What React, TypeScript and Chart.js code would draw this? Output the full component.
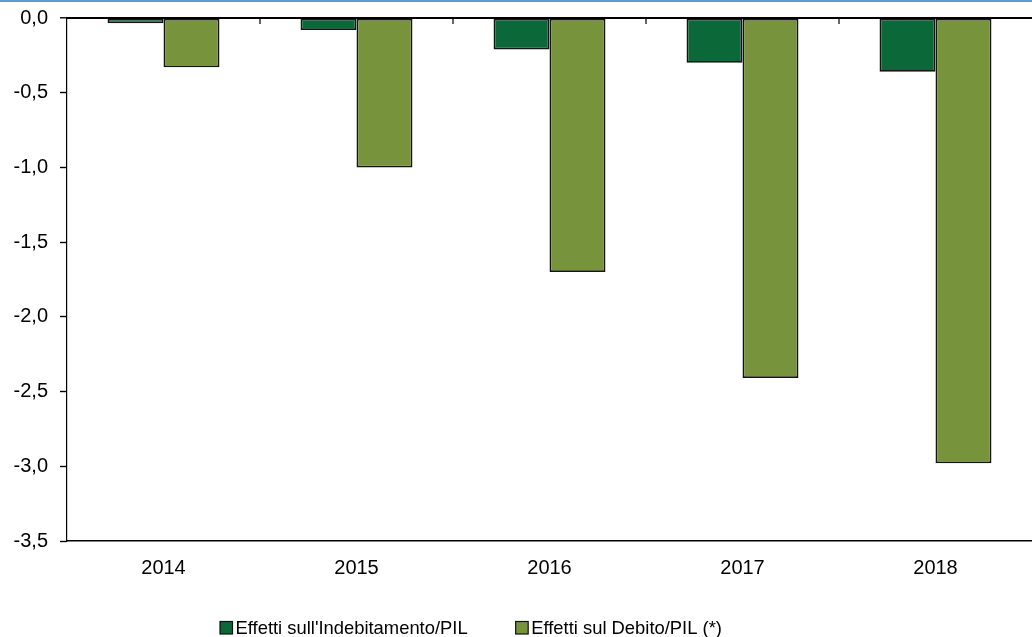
import React, { useEffect, useRef } from "react";
import { Chart, registerables } from "chart.js";

Chart.register(...registerables);

const years = ["2014", "2015", "2016", "2017", "2018"];
const indebitamento = [-0.035, -0.08, -0.21, -0.3, -0.36];
const debito = [-0.33, -1.0, -1.7, -2.41, -2.98];
const seriesNames = ["Effetti sull'Indebitamento/PIL", "Effetti sul Debito/PIL (*)"];
const seriesColors = ["#0B6838", "#77933C"];
const yMin = -3.5;
const yMax = 0;
const yStep = 0.5;

const FONT = "'Liberation Sans', Arial, sans-serif";
const W = 1032;
const H = 637;

const decorPlugin = {
  id: "decor",
  afterDraw(chart: any) {
    const { ctx, scales } = chart;
    ctx.save();
    // top blue rule
    ctx.fillStyle = "#5B9BD5";
    ctx.fillRect(0, 0, chart.width, 2);
    // category divider ticks hanging from the zero line
    const x = scales.x;
    const y0 = scales.y.getPixelForValue(0);
    ctx.strokeStyle = "#000";
    ctx.lineWidth = 1.2;
    ctx.beginPath();
    for (let i = 0; i < years.length - 1; i++) {
      const px = (x.getPixelForTick(i) + x.getPixelForTick(i + 1)) / 2;
      ctx.moveTo(px, y0);
      ctx.lineTo(px, y0 + 6);
    }
    ctx.stroke();
    // zero line redrawn over bar tops
    ctx.lineWidth = 1.8;
    ctx.beginPath();
    ctx.moveTo(chart.chartArea.left, y0);
    ctx.lineTo(chart.chartArea.right, y0);
    ctx.stroke();

    // legend
    const fontSize = 18.4;
    ctx.font = `${fontSize}px ${FONT}`;
    ctx.textBaseline = "alphabetic";
    ctx.textAlign = "left";
    const box = 12.5;
    const baseline = 634;
    let lx = 220;
    seriesNames.forEach((name, i) => {
      ctx.fillStyle = seriesColors[i];
      ctx.fillRect(lx, baseline - box, box, box);
      ctx.strokeStyle = "#111";
      ctx.lineWidth = 1.2;
      ctx.strokeRect(lx, baseline - box, box, box);
      const tx = lx + box + 3;
      ctx.fillStyle = "#000";
      ctx.fillText(name, tx, baseline);
      lx = tx + ctx.measureText(name).width + 48;
    });
    ctx.restore();
  },
};

export default function App() {
  const ref = useRef<HTMLCanvasElement | null>(null);
  useEffect(() => {
    document.body.style.margin = "0";
    const chart = new Chart(ref.current as HTMLCanvasElement, {
      type: "bar",
      data: {
        labels: years,
        datasets: [
          {
            label: seriesNames[0],
            data: indebitamento,
            backgroundColor: seriesColors[0],
            borderColor: "#141414",
            borderWidth: 1.8,
            borderSkipped: false,
          },
          {
            label: seriesNames[1],
            data: debito,
            backgroundColor: seriesColors[1],
            borderColor: "#141414",
            borderWidth: 1.8,
            borderSkipped: false,
          },
        ],
      },
      options: {
        animation: false,
        responsive: false,
        maintainAspectRatio: false,
        devicePixelRatio: 1,
        layout: { padding: { top: 18, right: 0, left: 0, bottom: 0 } },
        datasets: { bar: { categoryPercentage: 0.58, barPercentage: 1 } },
        plugins: {
          tooltip: { enabled: false },
          legend: { display: false },
        },
        scales: {
          x: {
            type: "category",
            position: "bottom",
            grid: { display: false },
            border: { display: true, color: "#000", width: 1.6 },
            ticks: { color: "#000", font: { family: FONT, size: 20 }, padding: 7 },
            afterFit: (s: any) => {
              s.height = 96;
              s.paddingLeft = 0;
              s.paddingRight = 0;
            },
          },
          y: {
            type: "linear",
            min: yMin,
            max: yMax,
            border: { display: true, color: "#000", width: 1.2 },
            grid: {
              color: (c: any) => (c.tick && c.tick.value === 0 ? "#000" : "rgba(0,0,0,0)"),
              lineWidth: (c: any) => (c.tick && c.tick.value === 0 ? 1.6 : 1),
              tickColor: "#000",
              tickLength: 7,
              tickWidth: 1.4,
              drawTicks: true,
            },
            ticks: {
              stepSize: yStep,
              color: "#000",
              padding: 12,
              font: { family: FONT, size: 20 },
              callback: (v: any) => Number(v).toFixed(1).replace(".", ","),
            },
            afterFit: (s: any) => {
              s.width = 67;
              s.paddingTop = 0;
              s.paddingBottom = 0;
            },
          },
        },
      },
      plugins: [decorPlugin],
    });
    return () => chart.destroy();
  }, []);
  return (
    <div style={{ position: "absolute", left: 0, top: 0, width: W, height: H, overflow: "hidden" }}>
      <canvas ref={ref} width={W} height={H} style={{ display: "block", width: W, height: H }} />
    </div>
  );
}
